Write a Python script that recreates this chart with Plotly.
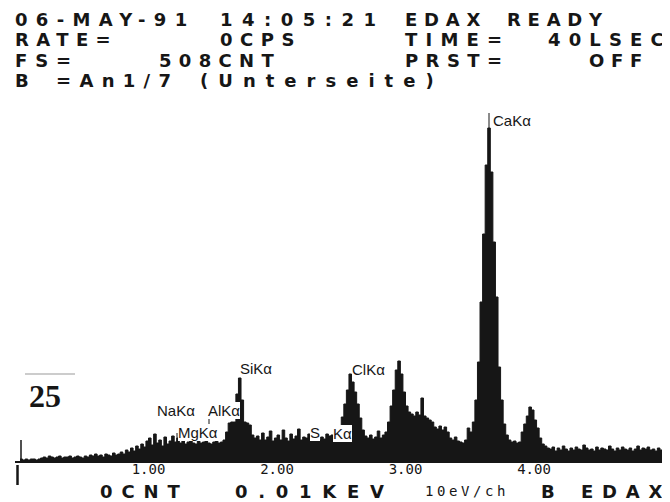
import plotly.graph_objects as go

# ---------------- data ----------------
KEV_PER_BIN = 0.02  # each value below covers 20 eV (two 10 eV channels)

# counts, 0.00 - 0.98 keV
counts_0 = [3, 2, 3, 2, 3, 3, 2, 3,
            4, 5, 4, 6, 5, 4, 5, 6, 4, 5, 5, 6, 4, 5, 6, 5, 4,
            6, 5, 7, 6, 8, 6, 7, 5, 8, 7, 6, 9, 7, 8, 10, 8,
            12, 10, 14, 11, 16, 13, 18, 15, 21]
# counts, 1.00 - 1.98 keV  (Na, Mg, Al, Si)
counts_1 = [24, 17, 28, 19, 22, 16, 25, 18, 21,
            26, 20, 24,
            19, 21, 18, 20, 22, 19, 18, 21, 19, 20, 23, 19, 18, 20, 21, 19, 20, 22,
            30, 39, 40, 40, 68, 84, 62, 40, 39, 37,
            27, 24, 26, 22,
            29, 22, 25, 31, 21, 24]
# counts, 2.00 - 2.98 keV  (S, Cl)
counts_2 = [27, 22, 32, 24, 21, 28, 23, 26, 33, 22, 25,
            24, 28, 23, 26, 24, 22,
            25, 23, 28, 26, 27, 29,
            30, 36, 45, 58, 72, 88, 80, 70, 58, 44, 32,
            26, 24, 27, 23, 25, 31, 24, 27,
            30, 40, 56, 72, 92, 101, 88, 70]
# counts, 3.00 - 3.98 keV  (Ca K-alpha, Ca K-beta)
counts_3 = [56, 50, 48, 46, 50, 47, 64, 46, 44, 42, 40,
            35, 33, 36, 32, 35, 30,
            24, 22, 25, 21, 20, 19, 22,
            34, 30, 40,
            62, 100, 160, 228, 297, 334, 290, 220, 165, 95, 62, 38, 27,
            22, 20, 21, 19, 20,
            30, 38, 46, 55, 52]
# counts, 4.00 - 5.04 keV
counts_4 = [42, 34, 24, 18, 16, 14,
            13, 15, 11, 14, 12, 16, 13, 11, 14, 12,
            15, 13, 12, 17, 14, 12, 13, 11, 15, 12,
            14, 13, 12, 16, 13, 11, 14, 12, 15, 13,
            12, 14, 11, 13, 16, 12, 14, 13, 15, 12,
            13, 11, 14, 12, 15, 13, 12]

tick_vals = [1, 2, 3, 4]
tick_text = ["1.00", "2.00", "3.00", "4.00"]

header_fields = [  # (line, column, text)
    (0, 0, "06-MAY-91"), (0, 10, "14:05:21"), (0, 19, "EDAX"), (0, 24, "READY"),
    (1, 0, "RATE="), (1, 10, "0CPS"), (1, 19, "TIME="), (1, 26, "40LSEC"),
    (2, 0, "FS="), (2, 7, "508CNT"), (2, 19, "PRST="), (2, 28, "OFF"),
    (3, 0, "B"), (3, 2, "=An1/7"), (3, 9, "(Unterseite)"),
]

peak_labels = ["CaKα", "SiKα", "ClKα", "NaKα", "AlKα", "MgKα", "S", "Kα"]

footer_fields = ["0CNT", "0.01KEV", "10eV/ch", "B", "EDAX"]

# ---------------- layout helpers ----------------
# The page body adds an 8 px margin, so the figure is drawn 8 px smaller
# and every reference-pixel position is shifted by that offset.
OFF = 8
REF_W, REF_H = 670, 502
W, H = REF_W - OFF, REF_H - OFF
BASE_Y = 462             # reference pixel row of the zero line
MB = REF_H - BASE_Y
PLOT_H = 400
MT = H - MB - PLOT_H
PX_PER_KEV = 128.5
X0_PX = 20               # reference pixel column of 0 keV


def pxx(px):
    return (px - OFF) / W


def pxy(py):
    return (BASE_Y - py) / PLOT_H


counts = counts_0 + counts_1 + counts_2 + counts_3 + counts_4
energy = [i * KEV_PER_BIN for i in range(len(counts))]
energy_step = energy + [len(counts) * KEV_PER_BIN]
counts_step = counts + [counts[-1]]

INK = "#161616"
SANS = "DejaVu Sans"
MONO = "DejaVu Sans Mono"

# DejaVu Sans Bold advance widths (em) used to put each glyph on the terminal's fixed grid
GLYPH_EM = {
    "0": .696, "1": .696, "2": .696, "3": .696, "4": .696, "5": .696, "6": .696,
    "7": .696, "8": .696, "9": .696, "-": .415, ":": .400, "=": .838, "/": .365,
    "(": .457, ")": .457, ".": .380, " ": .348,
    "A": .774, "B": .762, "C": .734, "D": .830, "E": .683, "F": .683, "I": .372,
    "K": .775, "L": .637, "M": .995, "N": .837, "O": .850, "P": .733, "R": .770,
    "S": .720, "T": .682, "U": .812, "V": .774, "X": .771, "Y": .724,
    "a": .675, "c": .593, "e": .678, "h": .712, "i": .343, "n": .712, "r": .493,
    "s": .595, "t": .478,
}

fig = go.Figure()
fig.add_trace(go.Scatter(
    x=energy_step, y=counts_step, mode="lines", line_shape="hv",
    line=dict(color=INK, width=1), fill="tozeroy", fillcolor=INK,
    hoverinfo="skip", showlegend=False))

ann = []


def gridded(s, cell, size):
    # tracking so that every glyph starts on the fixed character grid
    if len(s) < 2:
        return s
    natural = sum(GLYPH_EM.get(c, .7) for c in s[:-1]) * size
    ls = ((len(s) - 1) * cell - natural) / (len(s) - 1)
    return f'<span style="letter-spacing:{ls:.2f}px">{s[:-1]}</span>{s[-1]}'


def text_at(px, py, txt, font, **kw):
    d = dict(x=pxx(px), y=pxy(py), xref="paper", yref="paper",
             xanchor="left", yanchor="middle", showarrow=False, text=txt,
             borderpad=0, borderwidth=0, font=font)
    d.update(kw)
    return d


# header (terminal grid: 20.5 px per character cell)
CELL = 20.5
HEAD_SIZE = 18
HEAD_FONT = dict(family=SANS, size=HEAD_SIZE, color=INK, weight="bold")
LINE_Y = [19, 39.5, 60, 80.5]
for line, col, txt in header_fields:
    ann.append(text_at(15 + col * CELL, LINE_Y[line], gridded(txt, CELL, HEAD_SIZE), HEAD_FONT))

# footer (slightly wider grid)
FOOT_CELL = 22.5
foot_pos = [(100, 18, FOOT_CELL, SANS), (235, 18, FOOT_CELL, SANS), (425, 14, 12.0, MONO),
            (541, 18, FOOT_CELL, SANS), (581, 18, FOOT_CELL, SANS)]
for txt, (px, fs, cell, fam) in zip(footer_fields, foot_pos):
    if fam == MONO:
        body = f'<span style="letter-spacing:{cell - 0.602 * fs:.2f}px">{txt[:-1]}</span>{txt[-1]}'
        font = dict(family=fam, size=fs, color=INK)
    else:
        body = gridded(txt, cell, fs)
        font = dict(family=fam, size=fs, color=INK, weight="bold")
    ann.append(text_at(px, 491, body, font))

# peak labels (white boxes overwrite the spectrum like on the EDAX screen)
label_pos = [(493, 121), (240, 368), (352, 369), (157, 410), (208, 410), (178, 432), (310, 432), (333, 433)]
LABEL_FONT = dict(family="Liberation Sans", size=15, color=INK)
for txt, (px, py) in zip(peak_labels, label_pos):
    ann.append(text_at(px, py, txt, LABEL_FONT, bgcolor="white"))

# page number sticker
ann.append(text_at(29, 396, "<b>25</b>", dict(family="Liberation Serif", size=32, color=INK)))


def hline(x0, x1, y, color=INK, width=2):
    return dict(type="line", xref="paper", yref="paper", x0=pxx(x0), x1=pxx(x1),
                y0=pxy(y), y1=pxy(y), line=dict(color=color, width=width))


def vline(x, y0, y1, color=INK, width=1):
    return dict(type="line", xref="paper", yref="paper", x0=pxx(x), x1=pxx(x),
                y0=pxy(y0), y1=pxy(y1), line=dict(color=color, width=width))


shapes = [
    hline(15, REF_W, BASE_Y),               # zero line
    vline(21, 440, BASE_Y, width=1.5),      # cursor markers
    vline(17.5, 465, 485, width=2.5),
    vline(489, 113, 128),                   # label leader lines
    vline(209, 414, 426),
    vline(177, 433, 442),
    hline(25, 75, 374, color="#999999", width=1),   # sticker rule
]

fig.update_layout(
    width=W, height=H, margin=dict(l=0, r=0, t=MT, b=MB),
    paper_bgcolor="white", plot_bgcolor="white",
    xaxis=dict(range=[-(X0_PX - OFF) / PX_PER_KEV, (REF_W - X0_PX) / PX_PER_KEV],
               showgrid=False, zeroline=False, showline=False,
               tickvals=tick_vals, ticktext=tick_text, ticks="", ticklabelstandoff=-3,
               tickfont=dict(family=MONO, size=14, color=INK), fixedrange=True),
    yaxis=dict(range=[0, PLOT_H], visible=False, fixedrange=True),
    annotations=ann, shapes=shapes, showlegend=False,
)

fig.write_html("out.html")
